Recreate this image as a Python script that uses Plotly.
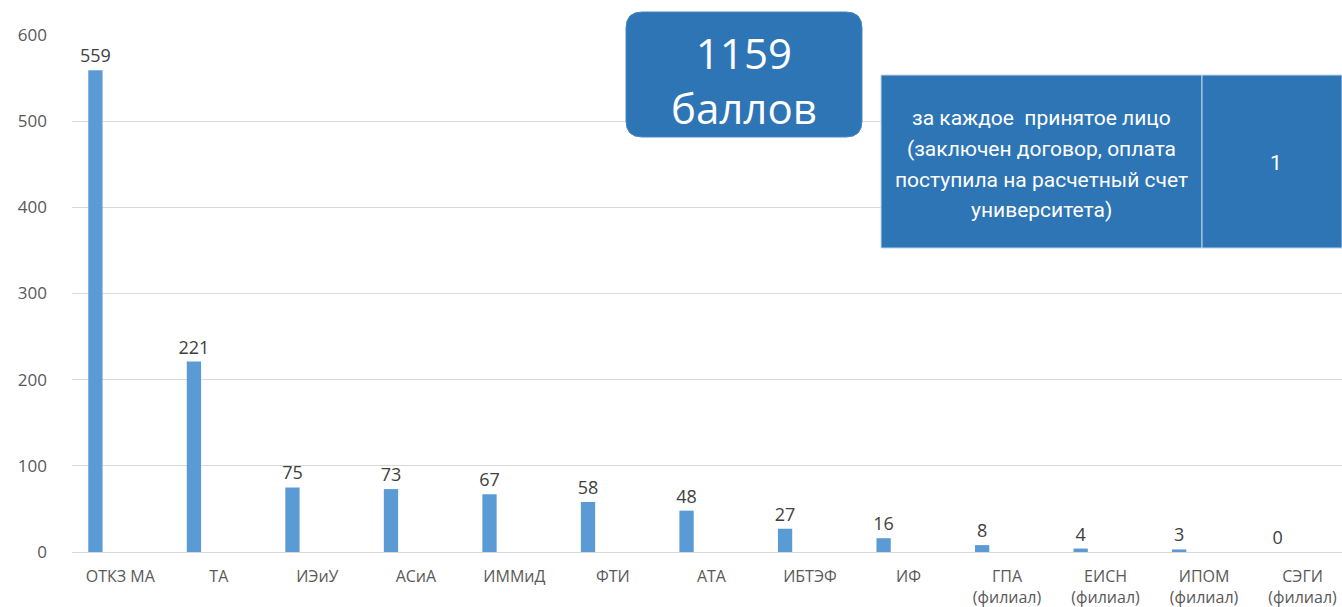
import plotly.graph_objects as go

categories = ["ОТКЗ МА", "ТА", "ИЭиУ", "АСиА", "ИММиД", "ФТИ", "АТА", "ИБТЭФ", "ИФ",
              "ГПА<br>(филиал)", "ЕИСН<br>(филиал)", "ИПОМ<br>(филиал)", "СЭГИ<br>(филиал)"]
values = [559, 221, 75, 73, 67, 58, 48, 27, 16, 8, 4, 3, 0]
y_ticks = [0, 100, 200, 300, 400, 500, 600]
total_text = "1159<br>баллов"
table_left_lines = ["за каждое  принятое лицо", "(заключен договор, оплата",
                    "поступила на расчетный счет", "университета)"]
table_right = "1"

W, H = 1342, 607
L, R, T, B = 72, 0, 35, 55
pw, ph = W - L - R, H - T - B

def px(x):
    return (x - L) / pw

def py(y):
    return (H - B - y) / ph

fig = go.Figure()
fig.add_trace(go.Bar(
    x=categories, y=values,
    offset=-0.325, width=0.145,
    marker=dict(color="#5B9BD5", line=dict(width=0)),
    text=[str(v) for v in values], textposition="outside", constraintext="none",
    textfont=dict(family="Open Sans", size=18, color="#404040"),
    cliponaxis=False, hoverinfo="skip",
))

shapes = []
# rounded box
x0, x1, y0, y1 = 626, 862, 12, 137
r = 16
rx, ry = r / pw, r / ph
X0, X1, Y0, Y1 = px(x0), px(x1), py(y1), py(y0)
path = (f"M {X0+rx},{Y0} L {X1-rx},{Y0} Q {X1},{Y0} {X1},{Y0+ry} "
        f"L {X1},{Y1-ry} Q {X1},{Y1} {X1-rx},{Y1} L {X0+rx},{Y1} "
        f"Q {X0},{Y1} {X0},{Y1-ry} L {X0},{Y0+ry} Q {X0},{Y0} {X0+rx},{Y0} Z")
shapes.append(dict(type="path", xref="paper", yref="paper", path=path,
                   fillcolor="#2E75B6", line=dict(color="#4A86C5", width=1)))
# table cells
for a, b in [(881, 1202), (1202, 1342)]:
    shapes.append(dict(type="rect", xref="paper", yref="paper",
                       x0=px(a), x1=px(b), y0=py(248), y1=py(75),
                       fillcolor="#2E75B6", line=dict(color="#BDD7EE", width=1)))

annotations = [
    dict(x=px(744), y=py(80), xref="paper", yref="paper", text=total_text, showarrow=False,
         font=dict(family="Open Sans", size=42, color="white"), xanchor="center", yanchor="middle",
         align="center"),
    dict(x=px(1276), y=py(163), xref="paper", yref="paper", text=table_right, showarrow=False,
         font=dict(family="Roboto", size=21, color="white"), xanchor="center", yanchor="middle"),
]
line_y = [118, 149, 180, 210]
for t, yy in zip(table_left_lines, line_y):
    annotations.append(dict(x=px(1041), y=py(yy), xref="paper", yref="paper", text=t,
                            showarrow=False, font=dict(family="Roboto", size=21, color="white"),
                            xanchor="center", yanchor="middle"))

fig.update_layout(
    width=W, height=H,
    margin=dict(l=L, r=R, t=T, b=B),
    paper_bgcolor="white", plot_bgcolor="white",
    showlegend=False,
    shapes=shapes, annotations=annotations,
    xaxis=dict(range=[-0.49, 12.4], showgrid=False, showline=True, linecolor="#D9D9D9",
               ticks="", ticklabelstandoff=10,
               tickfont=dict(family="Open Sans", size=16, color="#595959")),
    yaxis=dict(range=[0, 600], tickvals=y_ticks, showgrid=True, gridcolor="#D9D9D9",
               zeroline=False, showline=False, ticks="", ticklabelstandoff=24,
               tickfont=dict(family="Open Sans", size=17, color="#595959")),
)
fig.write_html("out.html", config={"displayModeBar": False},
               post_script="document.body.style.margin='0';document.body.style.overflow='hidden';")
